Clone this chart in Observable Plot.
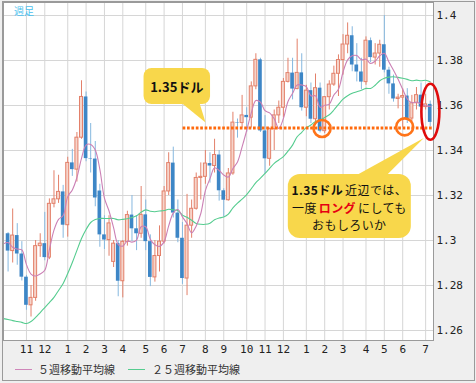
<!DOCTYPE html>
<html lang="ja">
<head>
<meta charset="utf-8">
<script src="https://cdn.jsdelivr.net/npm/d3@7"></script>
<script src="https://cdn.jsdelivr.net/npm/@observablehq/plot@0.6"></script>
<style>
  html, body { margin: 0; padding: 0; background: #efefef; }
  #wrap { position: relative; width: 476px; height: 383px; background: #efefef; overflow: hidden; }
  #chart svg { display: block; }
  #tag { position: absolute; left: 14px; top: 3px; font: 10px "Noto Sans CJK JP", sans-serif; color: #4cbfee; }
  #legend { position: absolute; left: 0; top: 355px; width: 476px; height: 28px; font: 11px "Noto Sans CJK JP", sans-serif; color: #333; }
  .sw { position: absolute; top: 14px; width: 17px; height: 0; border-top: 1px solid; }
  .lt { position: absolute; top: 6px; line-height: 16px; white-space: nowrap; }
  #frame { position: absolute; left: 2px; top: 1px; width: 473px; height: 380px; box-sizing: border-box; border: 1px solid #9a9a9a; pointer-events: none; }
  .callout { position: absolute; box-sizing: border-box; font-family: "Noto Sans CJK JP", sans-serif; color: #111; }
  .cl { display: flex; justify-content: center; white-space: nowrap; }
  .cl span { display: inline-block; }
  .cl span + span { margin-left: 2px; }
  .cl .b { font-weight: bold; }
  .cl .red { color: #e60012; font-weight: bold; }
</style>
</head>
<body>
<div id="wrap">
  <div id="chart"></div>
  <div id="tag">週足</div>
  <div id="legend">
    <div class="sw" style="left:15px;border-color:#cf86b9"></div><div class="lt" style="left:38px">５週移動平均線</div>
    <div class="sw" style="left:128px;border-color:#55cc8f"></div><div class="lt" style="left:152px">２５週移動平均線</div>
  </div>
  <div id="frame"></div>
</div>
<script>
// ---- Weekly EUR/USD candles (week starting Monday 2012-10-08 … 2014-07-14) ----
const firstWeek = "2012-10-08";
const lastWeek = "2014-07-14";
const open = [
  1.3030, 1.2953, 1.3022, 1.2940, 1.2837, 1.2712, 1.2745, 1.2975, 1.2986, 1.2924,
  1.3163, 1.3183, 1.3216, 1.3068, 1.3345, 1.3315, 1.3457, 1.3638, 1.3364, 1.3362,
  1.3220, 1.3025, 1.3002, 1.2905, 1.2986, 1.2819, 1.2994, 1.3113, 1.3052, 1.3030,
  1.3114, 1.2995, 1.2836, 1.2931, 1.2995, 1.3218, 1.3344, 1.3122, 1.3010, 1.2831,
  1.3066, 1.3141, 1.3278, 1.3283, 1.3342, 1.3331, 1.3380, 1.3221, 1.3179, 1.3298,
  1.3524, 1.3522, 1.3556, 1.3546, 1.3685, 1.3803, 1.3487, 1.3363, 1.3495, 1.3556,
  1.3590, 1.3705, 1.3744, 1.3673, 1.3745, 1.3590, 1.3666, 1.3539, 1.3677, 1.3486,
  1.3637, 1.3693, 1.3741, 1.3802, 1.3871, 1.3910, 1.3780, 1.3749, 1.3704, 1.3888,
  1.3813, 1.3831, 1.3870, 1.3757, 1.3696, 1.3629, 1.3635, 1.3642, 1.3542, 1.3610,
  1.3646, 1.3593, 1.3605
];
const high = [
  1.3035, 1.3140, 1.3075, 1.2995, 1.2845, 1.2800, 1.3000, 1.3030, 1.3125, 1.3185,
  1.3310, 1.3290, 1.3245, 1.3370, 1.3405, 1.3480, 1.3710, 1.3660, 1.3520, 1.3440,
  1.3250, 1.3110, 1.3110, 1.3000, 1.3000, 1.3000, 1.3130, 1.3200, 1.3110, 1.3240,
  1.3180, 1.3025, 1.3000, 1.3065, 1.3240, 1.3390, 1.3415, 1.3180, 1.3080, 1.3205,
  1.3180, 1.3300, 1.3345, 1.3400, 1.3390, 1.3450, 1.3400, 1.3230, 1.3320, 1.3570,
  1.3540, 1.3645, 1.3590, 1.3705, 1.3830, 1.3810, 1.3555, 1.3500, 1.3580, 1.3620,
  1.3720, 1.3810, 1.3810, 1.3895, 1.3830, 1.3690, 1.3700, 1.3740, 1.3700, 1.3640,
  1.3710, 1.3775, 1.3825, 1.3915, 1.3967, 1.3950, 1.3875, 1.3810, 1.3905, 1.3900,
  1.3875, 1.3890, 1.4000, 1.3770, 1.3735, 1.3650, 1.3675, 1.3675, 1.3645, 1.3680,
  1.3700, 1.3650, 1.3620
];
const low = [
  1.2860, 1.2900, 1.2890, 1.2820, 1.2690, 1.2660, 1.2730, 1.2925, 1.2910, 1.2915,
  1.3145, 1.3165, 1.3010, 1.3015, 1.3285, 1.3260, 1.3450, 1.3350, 1.3300, 1.3150,
  1.2970, 1.2960, 1.2930, 1.2880, 1.2750, 1.2745, 1.2975, 1.2995, 1.2955, 1.3010,
  1.2955, 1.2795, 1.2815, 1.2860, 1.2985, 1.3200, 1.3100, 1.2990, 1.2805, 1.2755,
  1.3010, 1.3135, 1.3180, 1.3250, 1.3255, 1.3300, 1.3175, 1.3105, 1.3175, 1.3290,
  1.3455, 1.3500, 1.3480, 1.3500, 1.3670, 1.3480, 1.3295, 1.3330, 1.3400, 1.3520,
  1.3545, 1.3700, 1.3625, 1.3670, 1.3575, 1.3550, 1.3520, 1.3510, 1.3478, 1.3475,
  1.3580, 1.3685, 1.3640, 1.3735, 1.3830, 1.3750, 1.3705, 1.3670, 1.3690, 1.3790,
  1.3780, 1.3770, 1.3745, 1.3650, 1.3615, 1.3585, 1.3503, 1.3520, 1.3525, 1.3580,
  1.3590, 1.3580, 1.3505
];
const close = [
  1.2953, 1.3022, 1.2940, 1.2837, 1.2712, 1.2745, 1.2975, 1.2986, 1.2924, 1.3163,
  1.3183, 1.3216, 1.3068, 1.3345, 1.3315, 1.3457, 1.3638, 1.3364, 1.3362, 1.3189,
  1.3025, 1.3002, 1.3076, 1.2986, 1.2819, 1.2994, 1.3113, 1.3052, 1.3030, 1.3114,
  1.2995, 1.2836, 1.2931, 1.2995, 1.3218, 1.3344, 1.3122, 1.3010, 1.2831, 1.3066,
  1.3141, 1.3278, 1.3283, 1.3342, 1.3331, 1.3380, 1.3221, 1.3179, 1.3298, 1.3524,
  1.3522, 1.3556, 1.3546, 1.3685, 1.3803, 1.3487, 1.3363, 1.3495, 1.3556, 1.3590,
  1.3705, 1.3744, 1.3673, 1.3745, 1.3590, 1.3666, 1.3539, 1.3677, 1.3486, 1.3637,
  1.3693, 1.3741, 1.3802, 1.3871, 1.3910, 1.3780, 1.3749, 1.3704, 1.3888, 1.3813,
  1.3831, 1.3870, 1.3757, 1.3696, 1.3629, 1.3635, 1.3642, 1.3542, 1.3610, 1.3646,
  1.3593, 1.3605, 1.3525
];

// ---- Moving averages (weeks from 2012-10-01) ----
const maFirstWeek = "2012-10-01";
const ma5 = [
  1.2985, 1.2991, 1.2970, 1.2962, 1.2958, 1.2893, 1.2851, 1.2842, 1.2851, 1.2868,
  1.2959, 1.3046, 1.3094, 1.3111, 1.3195, 1.3225, 1.3280, 1.3365, 1.3424, 1.3427,
  1.3402, 1.3316, 1.3188, 1.3131, 1.3056, 1.2982, 1.2975, 1.2998, 1.2993, 1.3002,
  1.3061, 1.3061, 1.3005, 1.2981, 1.2974, 1.2995, 1.3065, 1.3122, 1.3138, 1.3105,
  1.3075, 1.3034, 1.3065, 1.3120, 1.3222, 1.3275, 1.3323, 1.3311, 1.3291, 1.3282,
  1.3320, 1.3349, 1.3416, 1.3489, 1.3567, 1.3622, 1.3615, 1.3577, 1.3567, 1.3541,
  1.3498, 1.3542, 1.3618, 1.3654, 1.3691, 1.3691, 1.3684, 1.3643, 1.3643, 1.3592,
  1.3601, 1.3606, 1.3647, 1.3672, 1.3749, 1.3803, 1.3821, 1.3822, 1.3803, 1.3806,
  1.3787, 1.3797, 1.3821, 1.3832, 1.3793, 1.3757, 1.3717, 1.3672, 1.3629, 1.3612,
  1.3615, 1.3607, 1.3599, 1.3596
];
const ma25 = [
  1.2653, 1.2649, 1.2644, 1.2640, 1.2636, 1.2631, 1.2640, 1.2658, 1.2680, 1.2702,
  1.2724, 1.2747, 1.2778, 1.2809, 1.2853, 1.2902, 1.2956, 1.3009, 1.3049, 1.3080,
  1.3093, 1.3098, 1.3098, 1.3098, 1.3098, 1.3092, 1.3094, 1.3097, 1.3102, 1.3110,
  1.3126, 1.3136, 1.3130, 1.3128, 1.3131, 1.3133, 1.3139, 1.3136, 1.3133, 1.3113,
  1.3103, 1.3090, 1.3076, 1.3072, 1.3072, 1.3077, 1.3092, 1.3100, 1.3104, 1.3117,
  1.3145, 1.3166, 1.3184, 1.3204, 1.3230, 1.3257, 1.3277, 1.3298, 1.3321, 1.3343,
  1.3358, 1.3373, 1.3397, 1.3424, 1.3461, 1.3481, 1.3502, 1.3513, 1.3529, 1.3534,
  1.3547, 1.3559, 1.3580, 1.3605, 1.3628, 1.3643, 1.3654, 1.3661, 1.3668, 1.3676,
  1.3676, 1.3690, 1.3710, 1.3721, 1.3726, 1.3728, 1.3725, 1.3721, 1.3716, 1.3710,
  1.3713, 1.3710, 1.3712, 1.3706
];

// ---- Axis ticks ----
const monthTicks = [
  "2012-11-05","2012-12-03","2013-01-07","2013-02-04","2013-03-04","2013-04-01",
  "2013-05-06","2013-06-03","2013-07-01","2013-08-05","2013-09-02","2013-10-07",
  "2013-11-04","2013-12-02","2014-01-06","2014-02-03","2014-03-03","2014-04-07",
  "2014-05-05","2014-06-02","2014-07-07"
];
const yTicks = [1.26, 1.28, 1.30, 1.32, 1.34, 1.36, 1.38, 1.40];
const xDomain = ["2012-10-01", "2014-07-19"];
const yDomain = [1.25556, 1.40578];

// ---- Annotations (data anchors) ----
const level = 1.35;
const levelFrom = "2013-07-02";
const touches = [{date: "2014-01-30", price: 1.3498}, {date: "2014-06-05", price: 1.3505}];
const focus = {date: "2014-07-15", price: 1.3570};
const callout1 = {date: "2013-08-06", price: 1.35, lines: [[{t: "1.35ドル", c: "b"}]]};
const callout2 = {date: "2014-07-05", price: 1.3453, lines: [
  [{t: "1.35ドル", c: "b"}, {t: "近辺では、"}],
  [{t: "一度"}, {t: "ロング", c: "red"}, {t: "にしても"}],
  [{t: "おもしろいか"}]
]};

// ---- Build ----
const D = s => new Date(s + "T00:00:00Z");
const DAY = 864e5;
const shift = (d, k) => new Date(+d + k * DAY);
const weeks = d3.utcMonday.range(D(firstWeek), shift(D(lastWeek), 1));
const rows = weeks.map((date, i) => ({date, open: open[i], high: high[i], low: low[i], close: close[i]}));
const up = rows.filter(d => d.close >= d.open);
const down = rows.filter(d => d.close < d.open);
const maWeeks = d3.utcMonday.range(D(maFirstWeek), shift(D(lastWeek), 1));
const ma5Rows = maWeeks.map((date, i) => ({date, v: ma5[i]}));
const ma25Rows = maWeeks.map((date, i) => ({date, v: ma25[i]}));
const ticks = monthTicks.map(D);

const UP_STROKE = "#e3806a", UP_FILL = "#f6d4ca", DN_FILL = "#3d86c6", DN_WICK = "#86b8df";

const chart = Plot.plot({
  width: 476,
  height: 355,
  marginLeft: 3, marginRight: 43, marginTop: 2, marginBottom: 15,
  style: {background: "transparent", fontFamily: "'DejaVu Sans Mono', monospace", fontSize: "11px", color: "#222", overflow: "visible"},
  x: {type: "utc", domain: xDomain.map(D)},
  y: {domain: yDomain},
  marks: [
    Plot.frame({fill: "#ffffff", stroke: "none"}),
    Plot.gridY(yTicks, {stroke: "#d6d6d6", strokeOpacity: 1}),
    Plot.gridX(ticks, {stroke: "#d6d6d6", strokeOpacity: 1}),
    Plot.ruleX(down, {x: "date", y1: "low", y2: "high", stroke: DN_WICK, strokeWidth: 1}),
    Plot.ruleX(up, {x: "date", y1: "low", y2: "high", stroke: UP_STROKE, strokeWidth: 1}),
    Plot.rect(down, {x1: d => shift(d.date, -2.8), x2: d => shift(d.date, 2.8), y1: "open", y2: "close", fill: DN_FILL}),
    Plot.rect(up, {x1: d => shift(d.date, -2.3), x2: d => shift(d.date, 2.3), y1: "open", y2: "close", fill: UP_FILL, stroke: UP_STROKE, strokeWidth: 1}),
    Plot.line(ma25Rows, {x: "date", y: "v", stroke: "#55cc8f", strokeWidth: 1.1, curve: "catmull-rom"}),
    Plot.line(ma5Rows, {x: "date", y: "v", stroke: "#cb80b5", strokeWidth: 1.1, curve: "catmull-rom"}),
    Plot.ruleY([level], {x1: D(levelFrom), x2: D(xDomain[1]), stroke: "#ff6a0d", strokeWidth: 3, strokeDasharray: "2.7,1.7"}),
    Plot.dot(touches, {x: d => D(d.date), y: "price", r: 8.5, stroke: "#ff7419", strokeWidth: 2.6, fill: "none"}),
    Plot.frame({stroke: "#9a9a9a"}),
    Plot.axisY(yTicks, {anchor: "right", tickSize: 0, tickPadding: 3, label: null, tickFormat: d => String(+d.toFixed(2))}),
    Plot.axisX(ticks, {anchor: "bottom", tickSize: 0, tickPadding: 5, label: null, tickFormat: d => String(d.getUTCMonth() + 1)})
  ]
});
document.getElementById("chart").appendChild(chart);

const sx = chart.scale("x"), sy = chart.scale("y");
const g = d3.select(chart).append("g");
const wrap = d3.select("#wrap");

// red focus ellipse
g.append("ellipse")
  .attr("cx", sx.apply(D(focus.date))).attr("cy", sy.apply(focus.price))
  .attr("rx", 9).attr("ry", 28)
  .attr("fill", "none").attr("stroke", "#e00b0b").attr("stroke-width", 2.6);

const YELLOW = "#f8d74b";

function calloutText(left, top, width, padTop, size, lineH, spacing, lines) {
  const box = wrap.append("div").attr("class", "callout")
    .style("left", `${left}px`).style("top", `${top}px`).style("width", `${width}px`)
    .style("padding-top", `${padTop}px`).style("font-size", `${size}px`)
    .style("line-height", `${lineH}px`).style("letter-spacing", `${spacing}px`);
  lines.forEach(segs => {
    const line = box.append("div").attr("class", "cl");
    segs.forEach(s => line.append("span").attr("class", s.c || null).text(s.t));
  });
}

// callout 1
{
  const tx = sx.apply(D(callout1.date)), ty = sy.apply(callout1.price) - 5;
  g.append("rect").attr("x", tx - 62).attr("y", ty - 54.5).attr("width", 66.5).attr("height", 36)
    .attr("rx", 8).attr("fill", YELLOW);
  g.append("path").attr("d", `M${tx - 24},${ty - 19.5}L${tx},${ty}L${tx - 6},${ty - 19.5}Z`).attr("fill", YELLOW);
  calloutText(tx - 62, ty - 54.5, 66.5, 9, 13, 19, 0, callout1.lines);
}
// callout 2
{
  const tx = sx.apply(D(callout2.date)), ty = sy.apply(callout2.price);
  g.append("rect").attr("x", tx - 136).attr("y", ty + 36).attr("width", 123).attr("height", 64)
    .attr("rx", 12).attr("fill", YELLOW);
  g.append("path").attr("d", `M${tx - 67},${ty + 37}L${tx},${ty}L${tx - 37},${ty + 37}Z`).attr("fill", YELLOW);
  calloutText(tx - 136, ty + 36, 123, 7, 12, 17.5, 0.4, callout2.lines);
}
// keep the outer frame on top
document.getElementById("wrap").appendChild(document.getElementById("frame"));
</script>
</body>
</html>
